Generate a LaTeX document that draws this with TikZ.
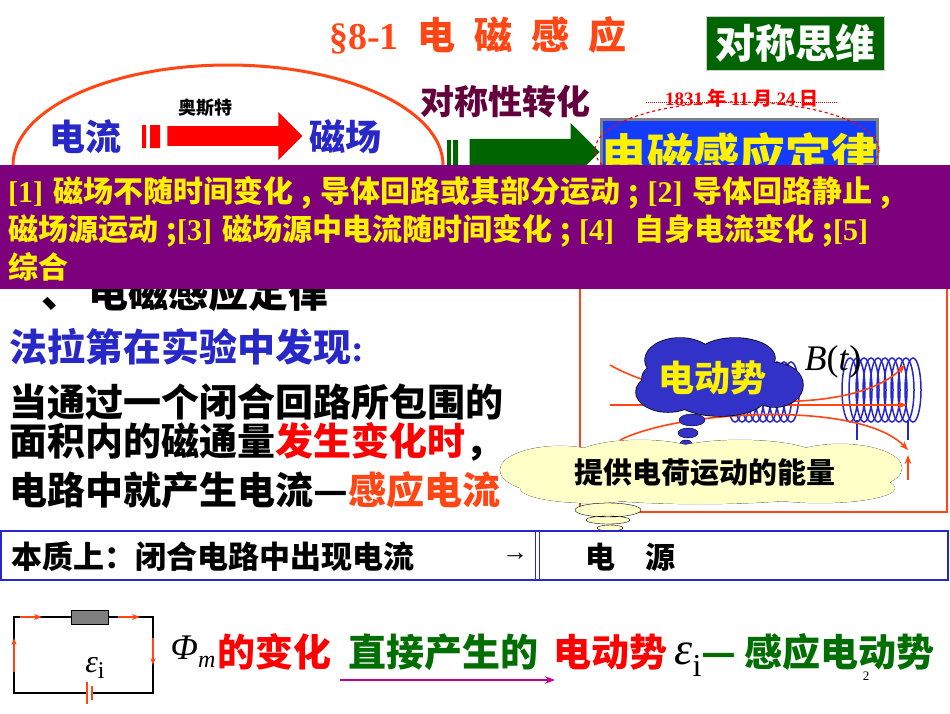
\documentclass[tikz,border=0pt]{standalone}
\usepackage{fontspec}
\setmainfont{Liberation Serif}
\newfontfamily\cjk{Noto Sans CJK SC}
\usetikzlibrary{shapes.arrows,arrows.meta}
\definecolor{ored}{RGB}{255,70,20}
\definecolor{dblue}{RGB}{40,40,200}
\definecolor{dgreen}{RGB}{0,100,0}
\definecolor{banner}{RGB}{125,0,125}
\definecolor{cream}{RGB}{255,255,200}
\definecolor{tgreen}{RGB}{0,110,0}
\definecolor{mag}{RGB}{190,0,150}
\definecolor{lawblue}{RGB}{20,60,255}
\definecolor{cloudblue}{RGB}{50,50,200}
\definecolor{dpurple}{RGB}{100,0,60}
\tikzset{
 big/.style={font=\fontsize{36}{38}\selectfont\cjk\bfseries},
 mid/.style={font=\fontsize{38}{40}\selectfont\cjk\bfseries},
 fl/.style={ored,line width=1.6pt,-{Stealth[length=9pt]}},
 coil/.style={dblue,line width=1.5pt},
}
\newcommand{\puffs}{(560,470) ellipse (60 and 24) (640,460) ellipse (70 and 20) (740,458) ellipse (80 and 18) (840,468) ellipse (62 and 24) (700,486) ellipse (150 and 18) (590,488) ellipse (70 and 15) (820,488) ellipse (75 and 15)}
\newcommand{\bpuffs}{(680,360) ellipse (35 and 22) (735,358) ellipse (40 and 20) (668,392) ellipse (32 and 20) (720,398) ellipse (45 and 18) (775,385) ellipse (28 and 22) (712,378) ellipse (70 and 25)}
\begin{document}
\begin{tikzpicture}[x=1pt,y=-1pt]
\useasboundingbox (0,0) rectangle (950,713);
\fill[white] (0,0) rectangle (950,713);
% title
\node (title) [ored,font=\fontsize{38}{40}\selectfont\cjk\bfseries] at (478,35) {\textrm{§8-1}\hspace{0.5em}电\hspace{0.5em}磁\hspace{0.5em}感\hspace{0.5em}应};
\node (sym) [fill=dgreen,draw=gray!40,text=white,minimum width=178pt,minimum height=54pt,font=\fontsize{40}{42}\selectfont\cjk\bfseries] at (795,43) {对称思维};
% ellipse
\draw[ored,line width=3pt] (228,165) ellipse (215 and 100);
\node (cur) [dblue,big] at (85,137) {电流};
\node (magf) [dblue,big] at (345,137) {磁场};
\fill[red] (142,125) rectangle (146,148) (150,125) rectangle (160,148);
\node (a1) [single arrow,fill=red,minimum height=135pt,minimum width=48pt,single arrow head extend=6pt,inner sep=4pt] at (230,136) {};
\node (ost) [font=\fontsize{18}{20}\selectfont\cjk\bfseries] at (205,108) {奥斯特};
\node (sym2) [font=\fontsize{34}{36}\selectfont\cjk\bfseries,text=dpurple] at (505,102) {对称性转化};
\fill[dgreen] (447,140) rectangle (451,170) (453,140) rectangle (458,170);
\node (a2) [single arrow,fill=dgreen,minimum height=130pt,minimum width=58pt,single arrow head extend=5pt,inner sep=4pt] at (528,152) {};
\node (law) [fill=lawblue,draw=gray,line width=3pt,minimum width=270pt,minimum height=70pt,anchor=north west,text=yellow,font=\fontsize{46}{48}\selectfont\cjk\bfseries,inner sep=0pt] at (600,118) {\raisebox{-22pt}{电磁感应定律}};
\node (date) [red,font=\fontsize{19}{20}\selectfont\cjk\bfseries] at (742,98) {\textrm{1831} 年 \textrm{11} 月 \textrm{24} 日};
\draw[red,densely dotted,line width=1pt] (646,102) -- (838,102);
\draw[red,dashed,line width=1.2pt] (737,150) ellipse (142 and 48);
% hidden heading
\node (head) [anchor=west,font=\fontsize{40}{42}\selectfont\cjk\bfseries] at (38,292) {、\,电磁感应定律};
% red frame
\draw[ored,line width=2.5pt] (580,250) rectangle (947,512);
% banner
\fill[banner] (0,165) rectangle (950,289);
\node (bt) [anchor=north west,text=yellow,text width=945pt,align=left,inner sep=0pt,font=\fontsize{30}{38}\selectfont\cjk\bfseries] at (8,176)
 {\textrm{[1]} 磁场不随时间变化\;,\;导体回路或其部分运动\;;\;\textrm{[2]} 导体回路静止\;,\\
  磁场源运动\;;\textrm{[3]} 磁场源中电流随时间变化\;;\;\textrm{[4]}\ \ 自身电流变化\;;\textrm{[5]}\\
  综合};
% left text
\node (far) [anchor=west,dblue,mid] at (6,347) {法拉第在实验中发现\textrm{:}};
\node (l1) [anchor=west,mid] at (6,402) {当通过一个闭合回路所包围的};
\node (l2) [anchor=west,mid] at (6,442) {面积内的磁通量\textcolor{red}{发生变化时}，};
\node (l3) [anchor=west,mid] at (6,490) {电路中就产生电流—\textcolor{ored}{感应电流}};
% figure: coils
\foreach \i in {0,...,8}{\draw[coil] (735+\i*7,392) ellipse (8 and 30);}
\foreach \i in {0,...,9}{\draw[coil] (850+\i*7,390) ellipse (8 and 32);}
\draw[coil] (857,420) -- (857,440) (908,420) -- (908,440);
\draw[fl] (610,365) .. controls (680,405) and (850,420) .. (905,365);
\draw[fl] (610,405) -- (907,405);
\draw[fl] (620,440) .. controls (680,410) and (860,400) .. (908,450);
\draw[ored,line width=1.6pt,-{Stealth[length=9pt]}] (908,480) -- (908,455);
\node (bt2) [font=\fontsize{36}{38}\selectfont] at (833,362) {\textit{B}(\textit{t})};
% clouds
\fill[cloudblue,draw=black] (692,420) ellipse (13 and 6) (688,433) ellipse (10 and 5) (686,443) ellipse (6 and 3);
\draw[black,line width=1.5pt,fill=cloudblue] \bpuffs;
\fill[cloudblue] \bpuffs;
\node (emf) [text=yellow,font=\fontsize{36}{38}\selectfont\cjk\bfseries] at (712,378) {电动势};
\fill[cream,draw=black] (608,510) ellipse (33 and 7) (608,520) ellipse (22 and 4) (610,528) ellipse (13 and 3);
\draw[black,fill=cream] \puffs;
\fill[cream] \puffs;
\node (en) [font=\fontsize{29}{31}\selectfont\cjk\bfseries] at (705,473) {提供电荷运动的能量};
% blue bar
\draw[dblue,line width=2pt] (1,531) rectangle (948,580);
\draw[dblue,line width=1pt] (535,532) -- (535,579) (539,532) -- (539,579);
\node (ess) [anchor=west,font=\fontsize{31}{33}\selectfont\cjk\bfseries] at (8,557) {本质上：闭合电路中出现电流};
\node (arr) [font=\fontsize{26}{28}\selectfont] at (515,557) {→};
\node (src) [font=\fontsize{30}{32}\selectfont\cjk\bfseries] at (630,557) {电\quad 源};
% circuit
\draw[line width=2pt] (88,693) -- (14,693) -- (14,617) -- (71,617) (108,617) -- (153,617) -- (153,693) -- (92,693);
\fill[gray,draw=black] (71,610) rectangle (108,624);
\draw[ored,line width=1.8pt] (87,682) -- (87,704) (92,686) -- (92,700);
\draw[ored,line width=2pt,-{Stealth[length=8pt]}] (20,617) -- (42,617);
\draw[ored,line width=2pt,-{Stealth[length=8pt]}] (118,617) -- (140,617);
\draw[ored,line width=2pt,-{Stealth[length=7pt]}] (14,672) -- (14,638);
\draw[ored,line width=2pt,-{Stealth[length=7pt]}] (153,638) -- (153,665);
\node (ei) [font=\fontsize{32}{34}\selectfont] at (95,668) {\textit{ε}\raisebox{-6pt}{\fontsize{24}{26}\selectfont i}};
% bottom line
\node (phi) [font=\fontsize{36}{38}\selectfont] at (193,652) {\textit{Φ}\raisebox{-8pt}{\fontsize{24}{26}\selectfont\textit{m}}};
\node (chg) [red,mid] at (274,652) {的变化};
\node (dir) [tgreen,mid] at (443,652) {直接产生的};
\draw[mag,line width=2.5pt,-{Stealth[length=10pt]}] (340,680) -- (555,680);
\node (emf2) [red,mid] at (610,652) {电动势};
\node (ei2) [font=\fontsize{46}{48}\selectfont] at (688,660) {\textit{ε}\raisebox{-12pt}{\fontsize{32}{34}\selectfont i}};
\node (ind) [tgreen,mid] at (818,652) {— 感应电动势};
\node (pg) [font=\fontsize{13}{14}\selectfont,inner sep=0pt] at (866,676) {2};
\end{tikzpicture}
\end{document}
